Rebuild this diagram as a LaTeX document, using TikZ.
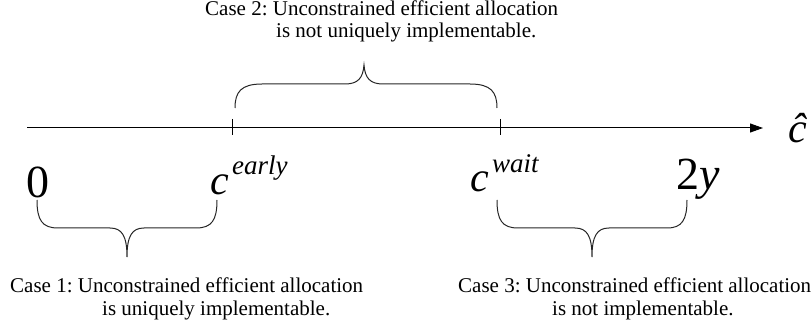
\documentclass[tikz,border=0pt]{standalone}
\usepackage{fontspec}
\setmainfont{Liberation Serif}
\usetikzlibrary{arrows.meta}
\frenchspacing
\tikzset{
  lbl/.style={anchor=base west, inner sep=0pt, font=\fontsize{21}{24}\selectfont},
  big/.style={anchor=base west, inner sep=0pt, font=\fontsize{46}{46}\selectfont},
  var/.style={anchor=base west, inner sep=0pt, font=\fontsize{42}{42}\selectfont\itshape},
  sup/.style={anchor=base west, inner sep=0pt, font=\fontsize{27}{27}\selectfont\itshape},
  brace/.style={draw=black!85, line width=1pt},
  axis/.style={draw=black, line width=1pt, -{Triangle[length=13pt,width=9pt]}},
  tick/.style={draw=black, line width=1pt}
}
\begin{document}
\begin{tikzpicture}[x=1pt,y=-1pt]
\useasboundingbox (0,0) rectangle (812,326);
% axis
\coordinate (a0) at (27,128);
\coordinate (a1) at (763,128);
\draw[axis] (a0) -- (a1);
\coordinate (t1a) at (232,119); \coordinate (t1b) at (232,135);
\coordinate (t2a) at (500,119); \coordinate (t2b) at (500,135);
\draw[tick] (t1a) -- (t1b);
\draw[tick] (t2a) -- (t2b);
\node[var] (chat) at (788,143) {\^{c}};
% math labels
\node[big] (zero) at (26,197) {0};
\node[var] (ce) at (210,195) {c};
\node[sup] (early) at (232,175) {early};
\node[var] (cw) at (470,192) {c};
\node[sup] (wait) at (492,173) {wait};
\node[big] (two) at (676,190) {2\textit{y}};
% top brace
\draw[brace] (235,108) .. controls (235,92) and (241,84) .. (262,84) -- (345,84)
  .. controls (358,84) and (363,78) .. (364,65)
  .. controls (365,78) and (370,84) .. (383,84) -- (470,84)
  .. controls (491,84) and (497,92) .. (497,108);
% bottom brace 1
\draw[brace] (37,200) .. controls (37,220) and (42,228) .. (58,228) -- (110,228)
  .. controls (122,228) and (127,236) .. (127,257)
  .. controls (127,236) and (132,228) .. (144,228) -- (196,228)
  .. controls (212,228) and (217,220) .. (217,200);
% bottom brace 2
\draw[brace] (497,200) .. controls (497,220) and (502,228) .. (518,228) -- (575,228)
  .. controls (587,228) and (592,236) .. (592,257)
  .. controls (592,236) and (597,228) .. (609,228) -- (667,228)
  .. controls (682,228) and (687,220) .. (687,200);
% texts
\node[lbl] (c2a) at (205,16) {Case 2: Unconstrained efficient allocation};
\node[lbl] (c2b) at (276,38) {is not uniquely implementable.};
\node[lbl] (c1a) at (10,292) {Case 1: Unconstrained efficient allocation};
\node[lbl] (c1b) at (102,315) {is uniquely implementable.};
\node[lbl] (c3a) at (458,292) {Case 3: Unconstrained efficient allocation};
\node[lbl] (c3b) at (552,315) {is not implementable.};
\end{tikzpicture}
\end{document}
